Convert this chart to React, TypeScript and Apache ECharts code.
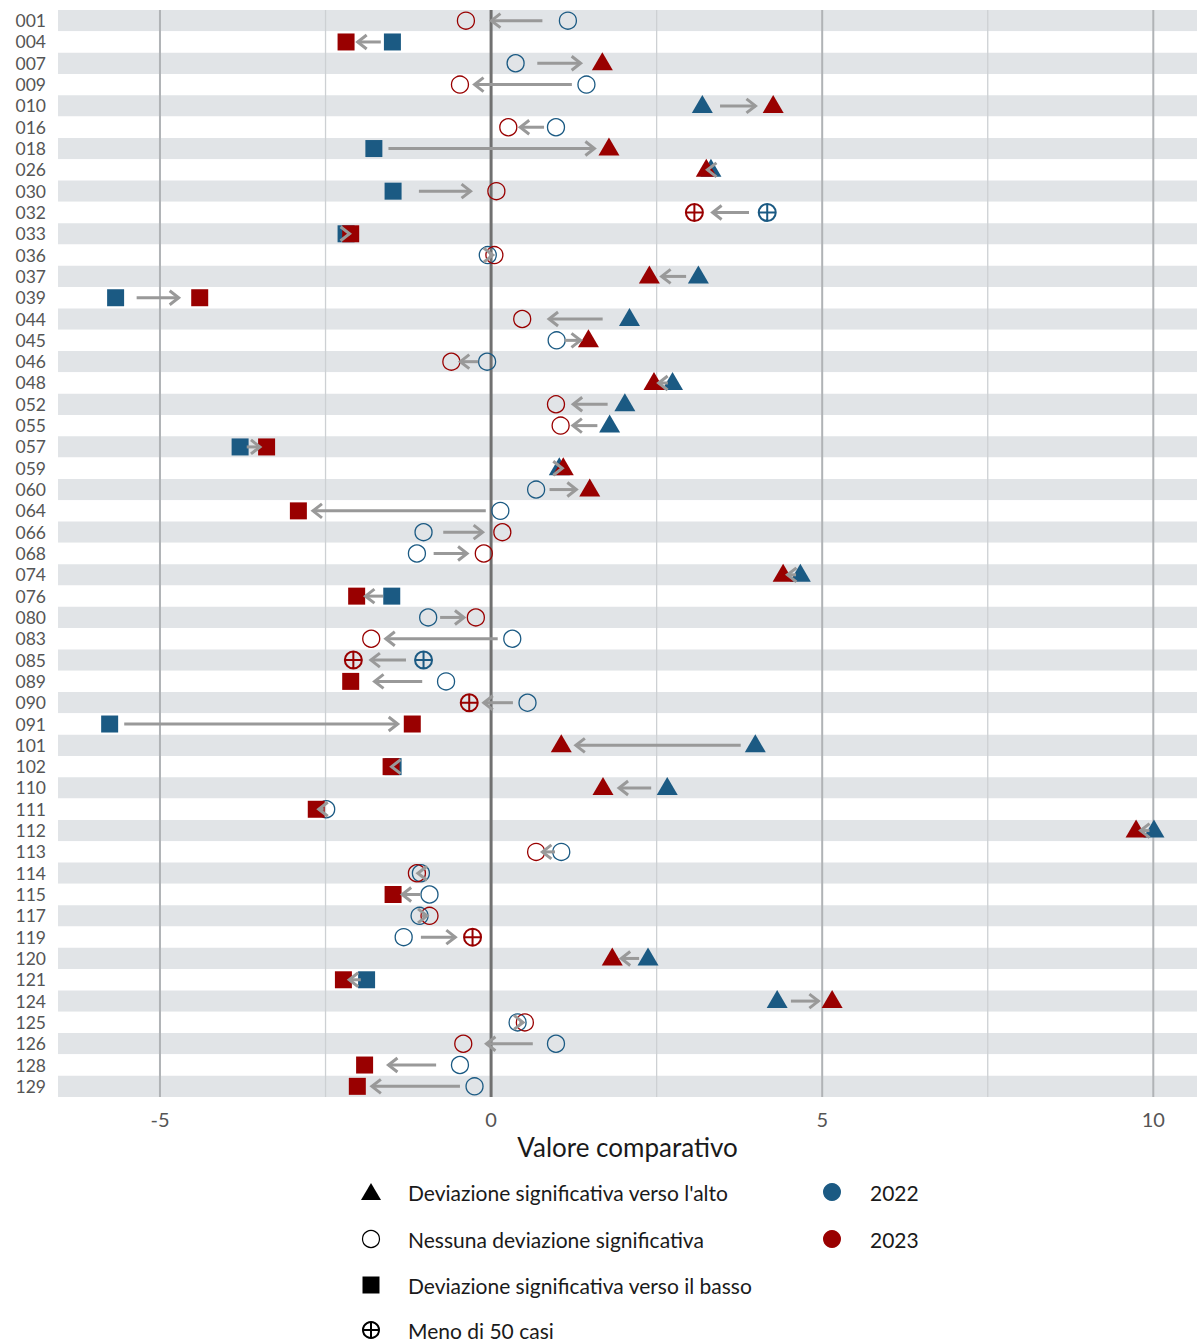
import React, { useEffect, useRef } from 'react';
import * as echarts from 'echarts';

const categories = ['001','004','007','009','010','016','018','026','030','032','033','036','037','039','044','045','046','048','052','055','057','059','060','064','066','068','074','076','080','083','085','089','090','091','101','102','110','111','112','113','114','115','117','119','120','121','124','125','126','128','129'];

const values2022 = [1.16,-1.49,0.37,1.44,3.19,0.98,-1.77,3.32,-1.48,4.17,-2.19,-0.05,3.13,-5.67,2.09,0.99,-0.06,2.74,2.02,1.79,-3.79,1.03,0.68,0.14,-1.02,-1.12,4.67,-1.50,-0.95,0.32,-1.02,-0.68,0.55,-5.76,3.99,-1.48,2.66,-2.49,10.01,1.06,-1.06,-0.93,-1.08,-1.32,2.37,-1.88,4.32,0.40,0.98,-0.47,-0.25];

const values2023 = [-0.38,-2.19,1.68,-0.47,4.26,0.26,1.78,3.25,0.08,3.07,-2.12,0.05,2.39,-4.40,0.47,1.47,-0.60,2.46,0.98,1.05,-3.39,1.09,1.49,-2.91,0.17,-0.11,4.41,-2.03,-0.23,-1.81,-2.08,-2.12,-0.33,-1.19,1.06,-1.51,1.69,-2.64,9.74,0.68,-1.12,-1.48,-0.93,-0.28,1.83,-2.23,5.15,0.51,-0.42,-1.91,-2.02];

// u = significant upward, n = no significant deviation, d = significant downward, p = fewer than 50 cases
const status2022 = ['n','d','n','n','u','n','d','u','d','p','d','n','u','d','u','n','n','u','u','u','d','u','n','n','n','n','u','d','n','n','p','n','n','d','u','d','u','n','u','n','n','n','n','n','u','d','u','n','n','n','n'];
const status2023 = ['n','d','u','n','u','n','u','u','n','p','d','n','u','d','n','u','n','u','n','n','d','u','u','d','n','n','u','d','n','n','p','d','p','d','u','d','u','d','u','n','n','d','n','p','u','d','u','n','n','d','d'];

const xTickValues = [-5, 0, 5, 10];
const gridValues = [-5, -2.5, 0, 2.5, 5, 7.5, 10];
const years = ['2022', '2023'];
const statusLabels = [
  "Deviazione significativa verso l'alto",
  'Nessuna deviazione significativa',
  'Deviazione significativa verso il basso',
  'Meno di 50 casi',
];

const BLUE = '#1b5a83';
const RED = '#990000';
const FONT = 'Lato, "Open Sans", sans-serif';
const PLUS_PATH = 'path://M10,0A10,10,0,1,1,10,20A10,10,0,1,1,10,0ZM10,0L10,20M0,10L20,10';

function makeItem(v: number, i: number, s: string, color: string) {
  const base: any = { value: [v, i] };
  if (s === 'u') {
    base.symbol = 'triangle';
    base.symbolSize = [21, 18];
    base.symbolOffset = [0, -2];
    base.itemStyle = { color, opacity: 1 };
  } else if (s === 'd') {
    base.symbol = 'rect';
    base.symbolSize = 17;
    base.itemStyle = { color, opacity: 1 };
  } else if (s === 'p') {
    base.symbol = PLUS_PATH;
    base.symbolSize = 17;
    base.itemStyle = { color: 'rgba(0,0,0,0)', borderColor: color, borderWidth: 2, opacity: 1 };
  } else {
    base.symbol = 'circle';
    base.symbolSize = 17;
    base.itemStyle = { color: 'rgba(0,0,0,0)', borderColor: color, borderWidth: 1.3, opacity: 1 };
  }
  return base;
}

export default function App() {
  const ref = useRef<HTMLDivElement>(null);
  useEffect(() => {
    if (!ref.current) return;
    const chart = echarts.init(ref.current, null, { renderer: 'svg' });

    const gridData = gridValues.map((v) => [v, 0]);
    const arrowData = categories.map((_, i) => [values2022[i], values2023[i], i]);

    const legendX = 371;
    const legendTextX = 408;
    const legendYs = [1192, 1239, 1285, 1330];
    const graphics: any[] = [
      { type: 'polygon', shape: { points: [[legendX - 10, legendYs[0] + 8], [legendX + 10, legendYs[0] + 8], [legendX, legendYs[0] - 9]] }, style: { fill: '#000' } },
      { type: 'circle', shape: { cx: legendX, cy: legendYs[1], r: 8.5 }, style: { fill: 'none', stroke: '#000', lineWidth: 1.2 } },
      { type: 'rect', shape: { x: legendX - 8.5, y: legendYs[2] - 8.5, width: 17, height: 17 }, style: { fill: '#000' } },
      { type: 'circle', shape: { cx: legendX, cy: legendYs[3], r: 8 }, style: { fill: 'none', stroke: '#000', lineWidth: 2 } },
      { type: 'line', shape: { x1: legendX, y1: legendYs[3] - 8, x2: legendX, y2: legendYs[3] + 8 }, style: { stroke: '#000', lineWidth: 2 } },
      { type: 'line', shape: { x1: legendX - 8, y1: legendYs[3], x2: legendX + 8, y2: legendYs[3] }, style: { stroke: '#000', lineWidth: 2 } },
    ];
    statusLabels.forEach((t, k) => {
      graphics.push({ type: 'text', x: legendTextX, y: legendYs[k], style: { text: t, font: `21px ${FONT}`, fill: '#1a1a1a', verticalAlign: 'middle' } });
    });
    years.forEach((t, k) => {
      graphics.push({ type: 'circle', shape: { cx: 832, cy: legendYs[k], r: 9 }, style: { fill: k === 0 ? BLUE : RED } });
      graphics.push({ type: 'text', x: 870, y: legendYs[k], style: { text: t, font: `21px ${FONT}`, fill: '#1a1a1a', verticalAlign: 'middle' } });
    });

    chart.setOption({
      animation: false,
      backgroundColor: '#ffffff',
      grid: { left: 58, right: 0, top: 10, bottom: 245, containLabel: false },
      xAxis: {
        type: 'value',
        min: -6.54,
        max: 10.66,
        splitLine: { show: false },
        axisLine: { show: false },
        axisTick: { show: false },
        axisLabel: { customValues: xTickValues, color: '#555', fontSize: 20, fontFamily: FONT, margin: 12 },
        name: 'Valore comparativo',
        nameLocation: 'middle',
        nameGap: 35,
        nameTextStyle: { color: '#1a1a1a', fontSize: 26, fontFamily: FONT },
      },
      yAxis: {
        type: 'category',
        data: categories,
        inverse: true,
        axisLine: { show: false },
        axisTick: { show: false },
        axisLabel: { color: '#555', fontSize: 17.5, lineHeight: 18, fontFamily: FONT, margin: 12, interval: 0 },
        splitLine: { show: false },
        splitArea: { show: true, interval: 0, areaStyle: { color: ['#e1e4e7', '#ffffff'] } },
      },
      graphic: graphics,
      series: [
        {
          type: 'custom',
          name: 'gridlines',
          silent: true,
          z: 1,
          data: gridData,
          encode: { x: 0, y: 1 },
          renderItem: (params: any, api: any) => {
            const v = api.value(0);
            const x = api.coord([v, 0])[0];
            const cs = params.coordSys;
            let stroke = '#cdd0d3';
            let lw = 1.3;
            if (v === 0) { stroke = '#707070'; lw = 3; }
            else if (v % 5 === 0) { stroke = '#b0b3b6'; lw = 2; }
            return { type: 'line', shape: { x1: x, y1: cs.y, x2: x, y2: cs.y + cs.height }, style: { stroke, lineWidth: lw } };
          },
        },
        {
          type: 'scatter',
          name: '2022',
          z: 2,
          itemStyle: { opacity: 1 },
          data: categories.map((_, i) => makeItem(values2022[i], i, status2022[i], BLUE)),
        },
        {
          type: 'scatter',
          name: '2023',
          z: 3,
          itemStyle: { opacity: 1 },
          data: categories.map((_, i) => makeItem(values2023[i], i, status2023[i], RED)),
        },
        {
          type: 'custom',
          name: 'arrows',
          silent: true,
          z: 4,
          data: arrowData,
          encode: { x: [0, 1], y: 2 },
          renderItem: (params: any, api: any) => {
            const a = api.value(0);
            const b = api.value(1);
            const idx = api.value(2);
            const d = Math.abs(b - a);
            const dir = b - a >= 0 ? 1 : -1;
            const gap = d <= 1.7 ? d * 0.25 : 0.22;
            const p1 = api.coord([a + dir * gap, idx]);
            const p2 = api.coord([b - dir * gap, idx]);
            const y = p1[1];
            const head = 9;
            const half = 7;
            return {
              type: 'group',
              children: [
                { type: 'line', shape: { x1: p1[0], y1: y, x2: p2[0], y2: y }, style: { stroke: '#999999', lineWidth: 3 } },
                { type: 'polyline', shape: { points: [[p2[0] - dir * head, y - half], [p2[0], y], [p2[0] - dir * head, y + half]] }, style: { stroke: '#999999', lineWidth: 3, fill: null } },
              ],
            };
          },
        },
      ],
    });
    return () => chart.dispose();
  }, []);
  return <div ref={ref} style={{ position: 'absolute', left: 0, top: 0, width: 1197, height: 1342 }} />;
}
